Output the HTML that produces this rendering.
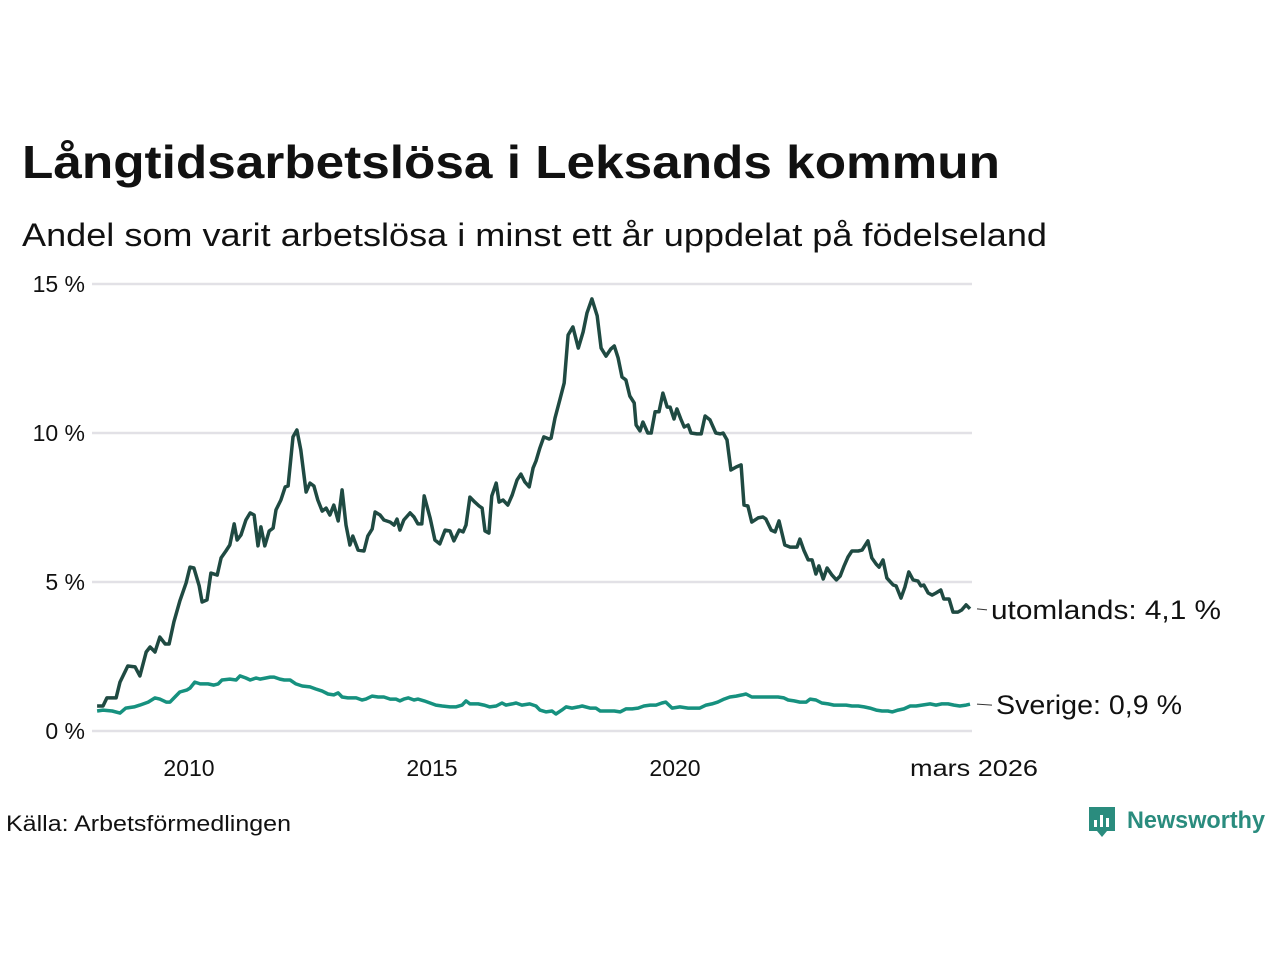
<!DOCTYPE html>
<html><head><meta charset="utf-8"><style>
body{margin:0;background:#fff;width:1280px;height:960px;overflow:hidden;font-family:"Liberation Sans",sans-serif;color:#111}
</style></head><body>
<svg width="1280" height="960" xmlns="http://www.w3.org/2000/svg">
<text x="22" y="178" font-size="46" font-weight="bold" fill="#111" textLength="978" lengthAdjust="spacingAndGlyphs">Långtidsarbetslösa i Leksands kommun</text>
<text x="22" y="246" font-size="32" fill="#111" textLength="1025" lengthAdjust="spacingAndGlyphs">Andel som varit arbetslösa i minst ett år uppdelat på födelseland</text>
<g id="grid"></g><g id="xaxis"></g><g id="lines"></g><g id="labels"></g>
<text x="6" y="831" font-size="22" fill="#111" textLength="285" lengthAdjust="spacingAndGlyphs">Källa: Arbetsförmedlingen</text>
<g>
<path d="M1089 807 h26 v24 h-8 l-5 6 l-5 -6 h-8 z" fill="#2a8c7e"/>
<rect x="1094" y="820" width="3" height="7" fill="#fff"/><rect x="1100" y="815" width="3" height="12" fill="#fff"/><rect x="1106" y="818" width="3" height="9" fill="#fff"/>
<text x="1127" y="828" font-size="24" font-weight="bold" fill="#2a8c7e" textLength="138" lengthAdjust="spacingAndGlyphs">Newsworthy</text>
</g>
</svg>
<script>
const yTicks=[0,5,10,15];
const yTickLabels=["0 %","5 %","10 %","15 %"];
const xTicks=[2010,2015,2020];
const abroadDates=[2008.11,2008.23,2008.31,2008.50,2008.58,2008.74,2008.89,2008.99,2009.12,2009.20,2009.30,2009.40,2009.51,2009.59,2009.69,2009.81,2009.94,2010.02,2010.10,2010.21,2010.27,2010.37,2010.45,2010.58,2010.66,2010.76,2010.84,2010.93,2010.99,2011.07,2011.17,2011.26,2011.34,2011.42,2011.48,2011.56,2011.65,2011.73,2011.79,2011.89,2011.98,2012.04,2012.14,2012.22,2012.30,2012.41,2012.49,2012.57,2012.65,2012.74,2012.82,2012.90,2012.98,2013.07,2013.15,2013.23,2013.31,2013.37,2013.48,2013.60,2013.68,2013.77,2013.83,2013.93,2014.01,2014.14,2014.22,2014.28,2014.34,2014.42,2014.55,2014.63,2014.71,2014.79,2014.84,2014.96,2015.06,2015.16,2015.27,2015.37,2015.45,2015.56,2015.64,2015.70,2015.78,2015.88,2015.97,2016.03,2016.09,2016.17,2016.23,2016.32,2016.38,2016.46,2016.56,2016.65,2016.75,2016.83,2016.91,2017.00,2017.08,2017.14,2017.22,2017.30,2017.41,2017.45,2017.53,2017.63,2017.72,2017.80,2017.90,2018.01,2018.11,2018.19,2018.29,2018.40,2018.48,2018.58,2018.68,2018.75,2018.83,2018.91,2018.99,2019.07,2019.16,2019.20,2019.28,2019.34,2019.44,2019.51,2019.59,2019.67,2019.75,2019.84,2019.90,2019.98,2020.04,2020.12,2020.19,2020.27,2020.33,2020.45,2020.54,2020.62,2020.72,2020.84,2020.93,2020.99,2021.07,2021.15,2021.26,2021.36,2021.42,2021.50,2021.58,2021.71,2021.81,2021.87,2021.98,2022.06,2022.14,2022.26,2022.37,2022.51,2022.57,2022.65,2022.74,2022.82,2022.90,2022.96,2023.05,2023.13,2023.23,2023.32,2023.40,2023.48,2023.56,2023.64,2023.77,2023.85,2023.97,2024.05,2024.14,2024.20,2024.28,2024.36,2024.49,2024.55,2024.65,2024.73,2024.81,2024.90,2025.00,2025.06,2025.12,2025.21,2025.29,2025.37,2025.47,2025.53,2025.64,2025.72,2025.82,2025.90,2025.99,2026.07];
const abroadValues=[0.84,0.84,1.11,1.11,1.64,2.18,2.15,1.85,2.65,2.82,2.65,3.15,2.92,2.92,3.66,4.36,4.97,5.50,5.47,4.87,4.33,4.40,5.30,5.23,5.81,6.04,6.24,6.95,6.41,6.58,7.08,7.32,7.25,6.21,6.85,6.21,6.71,6.81,7.42,7.75,8.19,8.22,9.87,10.10,9.43,8.02,8.32,8.22,7.75,7.38,7.48,7.25,7.58,7.05,8.09,6.91,6.24,6.54,6.07,6.04,6.54,6.78,7.35,7.25,7.08,7.01,6.91,7.11,6.74,7.08,7.32,7.18,6.95,6.95,7.89,7.15,6.41,6.28,6.74,6.71,6.38,6.74,6.68,6.91,7.85,7.68,7.55,7.48,6.71,6.64,7.89,8.32,7.68,7.75,7.58,7.92,8.42,8.62,8.36,8.19,8.83,9.06,9.50,9.87,9.80,9.83,10.50,11.11,11.68,13.29,13.56,12.85,13.39,14.03,14.50,13.93,12.85,12.58,12.82,12.92,12.52,11.88,11.78,11.24,11.01,10.27,10.07,10.37,10.00,10.00,10.71,10.71,11.34,10.87,10.87,10.47,10.81,10.47,10.20,10.27,10.00,9.97,9.97,10.57,10.44,10.00,9.97,10.00,9.77,8.76,8.86,8.93,7.58,7.55,7.01,7.15,7.18,7.11,6.74,6.68,7.05,6.24,6.17,6.17,6.44,6.07,5.74,5.74,5.27,5.54,5.10,5.47,5.23,5.07,5.20,5.54,5.84,6.04,6.04,6.07,6.38,5.81,5.60,5.50,5.74,5.13,4.90,4.87,4.46,4.83,5.34,5.07,5.03,4.87,4.90,4.63,4.56,4.63,4.73,4.43,4.43,3.99,3.99,4.06,4.23,4.1];
const swedenDates=[2008.11,2008.23,2008.42,2008.58,2008.70,2008.87,2008.99,2009.16,2009.30,2009.40,2009.53,2009.61,2009.71,2009.81,2009.96,2010.02,2010.12,2010.23,2010.39,2010.51,2010.60,2010.68,2010.84,2010.97,2011.05,2011.17,2011.26,2011.38,2011.46,2011.58,2011.67,2011.75,2011.87,2011.96,2012.08,2012.20,2012.33,2012.49,2012.61,2012.74,2012.86,2012.98,2013.07,2013.15,2013.27,2013.44,2013.56,2013.64,2013.77,2013.89,2014.01,2014.14,2014.26,2014.34,2014.42,2014.51,2014.63,2014.71,2014.84,2014.96,2015.08,2015.21,2015.37,2015.49,2015.62,2015.70,2015.78,2015.95,2016.07,2016.19,2016.32,2016.44,2016.52,2016.65,2016.73,2016.85,2017.01,2017.14,2017.22,2017.35,2017.47,2017.55,2017.67,2017.76,2017.88,2018.01,2018.09,2018.25,2018.37,2018.46,2018.62,2018.75,2018.87,2018.99,2019.12,2019.24,2019.36,2019.49,2019.61,2019.73,2019.81,2019.94,2020.10,2020.27,2020.39,2020.51,2020.64,2020.76,2020.88,2021.01,2021.13,2021.26,2021.38,2021.46,2021.58,2021.75,2021.87,2022.00,2022.12,2022.24,2022.33,2022.45,2022.57,2022.70,2022.78,2022.90,2023.02,2023.15,2023.27,2023.40,2023.52,2023.64,2023.77,2023.89,2024.01,2024.14,2024.26,2024.38,2024.47,2024.59,2024.71,2024.84,2024.96,2025.08,2025.25,2025.37,2025.49,2025.62,2025.74,2025.86,2025.99,2026.07];
const swedenValues=[0.67,0.70,0.67,0.60,0.77,0.81,0.87,0.97,1.11,1.07,0.97,0.97,1.14,1.31,1.38,1.44,1.64,1.58,1.58,1.54,1.58,1.71,1.74,1.71,1.85,1.78,1.71,1.78,1.74,1.78,1.81,1.81,1.74,1.71,1.71,1.58,1.51,1.48,1.41,1.34,1.24,1.21,1.28,1.14,1.11,1.11,1.04,1.07,1.17,1.14,1.14,1.07,1.07,1.01,1.07,1.11,1.04,1.07,1.01,0.94,0.87,0.84,0.81,0.81,0.87,1.01,0.91,0.91,0.87,0.81,0.84,0.94,0.87,0.91,0.94,0.87,0.91,0.84,0.70,0.64,0.67,0.57,0.70,0.81,0.77,0.81,0.84,0.77,0.77,0.67,0.67,0.67,0.64,0.74,0.74,0.77,0.84,0.87,0.87,0.94,0.97,0.77,0.81,0.77,0.77,0.77,0.87,0.91,0.97,1.07,1.14,1.17,1.21,1.24,1.14,1.14,1.14,1.14,1.14,1.11,1.04,1.01,0.97,0.97,1.07,1.04,0.94,0.91,0.87,0.87,0.87,0.84,0.84,0.81,0.77,0.70,0.67,0.67,0.64,0.70,0.74,0.84,0.84,0.87,0.91,0.87,0.91,0.91,0.87,0.84,0.87,0.9];
const NS="http://www.w3.org/2000/svg";
const X=d=>189+(d-2010)*48.6;
const Y=v=>731-v*29.8;
function mk(tag,attrs,parent){const e=document.createElementNS(NS,tag);for(const k in attrs)e.setAttribute(k,attrs[k]);document.getElementById(parent).appendChild(e);return e;}
yTicks.forEach((t,i)=>{
  const l=mk('line',{x1:92,x2:972,y1:Y(t),y2:Y(t),stroke:'#e2e1e6','stroke-width':2.5},'grid');
  
  
  const tx=mk('text',{x:85,y:Y(t)+8,'text-anchor':'end','font-size':23,fill:'#111'},'grid');
  tx.textContent=yTickLabels[i];
  
  
});
xTicks.forEach(t=>{
  const tx=mk('text',{x:X(t),y:776,'text-anchor':'middle','font-size':23,fill:'#111'},'xaxis');
  tx.textContent=String(t);
  
  
});
const lastTx=mk('text',{x:974,y:776,'text-anchor':'middle','font-size':23,fill:'#111',textLength:128,lengthAdjust:'spacingAndGlyphs'},'xaxis');
lastTx.textContent='mars 2026';


function line(dates,vals,color,name){
  const p=mk('path',{d:dates.map((d,i)=>(i?'L':'M')+X(d).toFixed(1)+' '+Y(vals[i]).toFixed(1)).join(''),fill:'none',stroke:color,'stroke-width':3.5,'stroke-linejoin':'round'},'lines');
  
  
}
line(swedenDates,swedenValues,'#16917f','sweden-line');
line(abroadDates,abroadValues,'#1f4a42','abroad-line');
function lab(vals,text,name,x0,w){
  const y=Y(vals[vals.length-1]);
  mk('line',{x1:977,x2:x0-4,y1:y,y2:y+1,stroke:'#333','stroke-width':1},'labels');
  const t=mk('text',{x:x0,y:y+10,'font-size':27,fill:'#111',textLength:w,lengthAdjust:'spacingAndGlyphs'},'labels');
  t.textContent=text;
  
  
}
lab(abroadValues,'utomlands: 4,1 %','abroad-end-label',991,230);
lab(swedenValues,'Sverige: 0,9 %','sweden-end-label',996,186);
</script>
</body></html>
